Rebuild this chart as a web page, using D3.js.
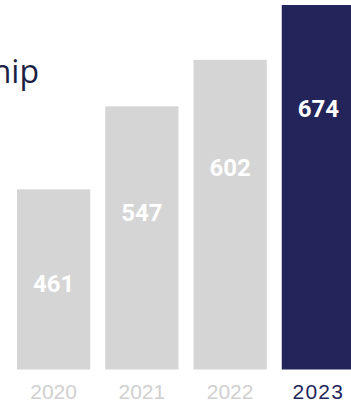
<!DOCTYPE html>
<html>
<head>
<meta charset="utf-8">
<script src="https://cdn.jsdelivr.net/npm/d3@7"></script>
<style>
  html, body { margin: 0; padding: 0; background: #fff; overflow: hidden; }
</style>
</head>
<body>
<div id="chart"></div>
<script>
const years = ["2020", "2021", "2022", "2023"];
const members = [461, 547, 602, 674];
const highlightYear = "2023";
const titleText = "Membership";

const width = 351;
const height = 405;
const base = 369.5;

const navy = "#23255a";
const grey = "#d5d5d5";

const svg = d3.select("#chart")
  .append("svg")
  .attr("width", width)
  .attr("height", height);

const data = years.map((year, i) => ({ year, value: members[i] }));

const x = d3.scaleBand()
  .domain(years)
  .range([17, 355])
  .paddingInner(0.17)
  .paddingOuter(0);

// bars in the picture grow slower than the numbers, a log scale fits them best
const y = d3.scaleLog()
  .domain([318, 674])
  .range([base, 5]);

// value labels sit lower on the short bars, higher on the tall ones
const labelY = d3.scaleLinear()
  .domain(d3.extent(members))
  .range([base - 78, 117]);

svg.append("text")
  .attr("x", 39)
  .attr("y", 82.5)
  .attr("text-anchor", "end")
  .attr("font-family", "'Open Sans', sans-serif")
  .attr("font-size", 32)
  .attr("fill", "#1c1f45")
  .text(titleText);

svg.append("g")
  .selectAll("rect")
  .data(data)
  .join("rect")
  .attr("x", d => x(d.year))
  .attr("y", d => y(d.value))
  .attr("width", x.bandwidth())
  .attr("height", d => base - y(d.value))
  .attr("fill", d => d.year === highlightYear ? navy : grey);

svg.append("g")
  .selectAll("text")
  .data(data)
  .join("text")
  .attr("x", d => x(d.year) + x.bandwidth() / 2)
  .attr("y", d => labelY(d.value))
  .attr("text-anchor", "middle")
  .attr("font-family", "'Roboto', sans-serif")
  .attr("font-weight", 700)
  .attr("font-size", 24)
  .attr("fill", "#ffffff")
  .text(d => d.value);

const axis = svg.append("g")
  .attr("transform", `translate(0, ${base})`)
  .call(d3.axisBottom(x).tickSize(0).tickPadding(15));

axis.select(".domain").remove();

axis.selectAll("text")
  .attr("font-family", "'Liberation Sans', Arial, sans-serif")
  .attr("font-size", 21)
  .attr("dy", "0.71em")
  .attr("letter-spacing", d => d === highlightYear ? 1.2 : 0)
  .attr("fill", d => d === highlightYear ? navy : "#d0d0d0");
</script>
</body>
</html>
